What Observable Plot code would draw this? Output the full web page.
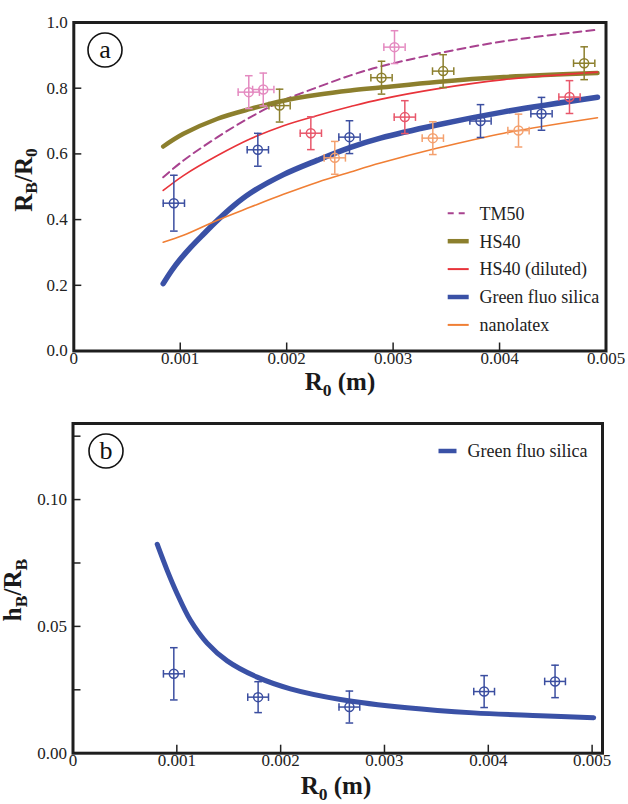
<!DOCTYPE html>
<html><head><meta charset="utf-8">
<script src="https://cdn.jsdelivr.net/npm/d3@7"></script>
<script src="https://cdn.jsdelivr.net/npm/@observablehq/plot@0.6"></script>
<style>
body{margin:0;background:#fff;}
#chart{width:628px;}
#chart svg{display:block;}
</style></head><body><div id="chart"></div>
<script>
// ---------- Panel (a): RB/R0 vs R0 ----------
const xTicksA = [0, 0.001, 0.002, 0.003, 0.004, 0.005];
const yTicksA = [0, 0.2, 0.4, 0.6, 0.8, 1.0];

// fitted curves (sampled from the figure)
const curveX = [0.00084, 0.00103, 0.00135, 0.00166, 0.00197, 0.00229, 0.0026, 0.00288, 0.00341, 0.00404, 0.00492];
const tm50CurveY   = [0.529, 0.580, 0.651, 0.712, 0.763, 0.803, 0.839, 0.866, 0.905, 0.943, 0.978];
const hs40CurveY   = [0.6225, 0.661, 0.707, 0.737, 0.762, 0.780, 0.793, 0.802, 0.819, 0.834, 0.846];
const dilCurveY    = [0.4886, 0.534, 0.595, 0.646, 0.686, 0.717, 0.744, 0.766, 0.798, 0.826, 0.849];
const latexCurveY  = [0.331, 0.352, 0.398, 0.438, 0.477, 0.514, 0.545, 0.572, 0.617, 0.663, 0.710];
const silicaCurveX = [0.00084, 0.00092, 0.001, 0.0011, 0.00122, 0.00135, 0.0015, 0.00166, 0.00197, 0.00229, 0.0026, 0.00288, 0.00341, 0.00404, 0.00492];
const silicaCurveY = [0.205, 0.245, 0.279, 0.316, 0.356, 0.398, 0.442, 0.481, 0.537, 0.581, 0.620, 0.648, 0.688, 0.728, 0.7726];

// measured points
const tm50PtsX = [0.001644, 0.00178, 0.003013];
const tm50PtsY = [0.788, 0.796, 0.925];
const tm50PtsErr = [0.05, 0.05, 0.05];
const hs40PtsX = [0.001933, 0.002891, 0.00347, 0.004795];
const hs40PtsY = [0.747, 0.832, 0.852, 0.876];
const hs40PtsErr = [0.05, 0.05, 0.05, 0.05];
const dilPtsX = [0.002227, 0.00311, 0.004657];
const dilPtsY = [0.663, 0.712, 0.773];
const dilPtsErr = [0.05, 0.05, 0.05];
const silicaPtsX = [0.00094, 0.001729, 0.00259, 0.003821, 0.004394];
const silicaPtsY = [0.45, 0.6125, 0.651, 0.70, 0.722];
const silicaPtsErr = [0.085, 0.05, 0.05, 0.05, 0.05];
const latexPtsX = [0.002452, 0.003373, 0.004178];
const latexPtsY = [0.588, 0.648, 0.671];
const latexPtsErr = [0.05, 0.05, 0.05];
const xErrA = 0.0001;

const legendA = ["TM50", "HS40", "HS40 (diluted)", "Green fluo silica", "nanolatex"];

// ---------- Panel (b): hB/RB vs R0 ----------
const xTicksB = [0, 0.001, 0.002, 0.003, 0.004, 0.005];
const yTicksB = [0, 0.05, 0.10];
const yMinorTicksB = [0.025, 0.075, 0.125];
const hbCurveX = [0.000811, 0.000907, 0.001003, 0.001131, 0.001292, 0.001485, 0.001774, 0.002094, 0.002576, 0.003218, 0.003859, 0.004502, 0.005015];
const hbCurveY = [0.0824, 0.0721, 0.0629, 0.0524, 0.0434, 0.0364, 0.0300, 0.0254, 0.0212, 0.0179, 0.0159, 0.0148, 0.0140];
const hbPtsX = [0.000971, 0.001783, 0.002662, 0.00396, 0.004643];
const hbPtsY = [0.0313, 0.0221, 0.0182, 0.0243, 0.0283];
const hbPtsErr = [0.0103, 0.0061, 0.0063, 0.0063, 0.0064];
const xErrB = 0.0001;
const legendB = ["Green fluo silica"];

// ---------- styling ----------
const FONT = "'Liberation Serif', 'Times New Roman', serif";
const series = [
  {name: legendA[0], cx: curveX, cy: tm50CurveY, px: tm50PtsX, py: tm50PtsY, pe: tm50PtsErr, line: "#a8428f", pt: "#e48ac0", w: 2, dash: "8,5"},
  {name: legendA[1], cx: curveX, cy: hs40CurveY, px: hs40PtsX, py: hs40PtsY, pe: hs40PtsErr, line: "#8c7f2d", pt: "#8c7f2d", w: 4.5, dash: null},
  {name: legendA[2], cx: curveX, cy: dilCurveY, px: dilPtsX, py: dilPtsY, pe: dilPtsErr, line: "#e8333a", pt: "#e8576b", w: 1.6, dash: null},
  {name: legendA[3], cx: silicaCurveX, cy: silicaCurveY, px: silicaPtsX, py: silicaPtsY, pe: silicaPtsErr, line: "#3a51a6", pt: "#3b4ea0", w: 5.5, dash: null},
  {name: legendA[4], cx: curveX, cy: latexCurveY, px: latexPtsX, py: latexPtsY, pe: latexPtsErr, line: "#f07f35", pt: "#f4a06e", w: 1.6, dash: null}
];

const hCap = {draw(ctx, size) { const r = Math.sqrt(size / Math.PI); ctx.moveTo(-r, 0); ctx.lineTo(r, 0); }};
const vCap = {draw(ctx, size) { const r = Math.sqrt(size / Math.PI); ctx.moveTo(0, -r); ctx.lineTo(0, r); }};

function pointMarks(pts, color) {
  const sw = 1.5;
  return [
    Plot.ruleX(pts, {x: "x", y1: d => d.y - d.ey, y2: d => d.y + d.ey, stroke: color, strokeWidth: sw}),
    Plot.ruleY(pts, {y: "y", x1: d => d.x - d.ex, x2: d => d.x + d.ex, stroke: color, strokeWidth: sw}),
    Plot.dot(pts, {x: "x", y: d => d.y + d.ey, symbol: hCap, r: 3.8, stroke: color, fill: "none", strokeWidth: sw}),
    Plot.dot(pts, {x: "x", y: d => d.y - d.ey, symbol: hCap, r: 3.8, stroke: color, fill: "none", strokeWidth: sw}),
    Plot.dot(pts, {x: d => d.x + d.ex, y: "y", symbol: vCap, r: 3.8, stroke: color, fill: "none", strokeWidth: sw}),
    Plot.dot(pts, {x: d => d.x - d.ex, y: "y", symbol: vCap, r: 3.8, stroke: color, fill: "none", strokeWidth: sw}),
    Plot.dot(pts, {x: "x", y: "y", r: 4.5, stroke: color, fill: "none", strokeWidth: sw})
  ];
}

const fmtX = d => d === 0 ? "0" : d3.format(".3f")(d);

// ---------- build panel a ----------
const marksA = [];
for (const s of series) {
  const curve = s.cx.map((x, i) => ({x, y: s.cy[i]}));
  marksA.push(Plot.line(curve, {x: "x", y: "y", stroke: s.line, strokeWidth: s.w, curve: "catmull-rom", strokeDasharray: s.dash}));
}
for (const s of series) {
  const pts = s.px.map((x, i) => ({x, y: s.py[i], ex: xErrA, ey: s.pe[i]}));
  marksA.push(...pointMarks(pts, s.pt));
}
const plotA = Plot.plot({
  width: 628, height: 400,
  marginLeft: 73.3, marginRight: 22.5, marginTop: 22, marginBottom: 49.5,
  style: {fontFamily: FONT, fontSize: "17px", color: "#222", background: "#fff"},
  x: {domain: [0, 0.005]},
  y: {domain: [0, 1]},
  marks: [
    ...marksA,
    Plot.axisX(xTicksA, {tickSize: -8, fill: "none", label: null, strokeWidth: 1.5}),
    Plot.axisX(xTicksA, {tickSize: 0, tickPadding: 1, stroke: "none", tickFormat: fmtX, label: null}),
    Plot.axisY(yTicksA, {tickSize: -8, fill: "none", label: null, strokeWidth: 1.5}),
    Plot.axisY(yTicksA, {tickSize: 0, tickPadding: 6, stroke: "none", tickFormat: d3.format(".1f"), label: null}),
    Plot.frame({stroke: "#1e1e1e", strokeWidth: 3})
  ]
});

// ---------- build panel b ----------
const hbCurve = hbCurveX.map((x, i) => ({x, y: hbCurveY[i]}));
const hbPts = hbPtsX.map((x, i) => ({x, y: hbPtsY[i], ex: xErrB, ey: hbPtsErr[i]}));
const plotB = Plot.plot({
  width: 628, height: 404,
  marginLeft: 72.5, marginRight: 26, marginTop: 23, marginBottom: 51.3,
  style: {fontFamily: FONT, fontSize: "17px", color: "#222", background: "#fff"},
  x: {domain: [0, 0.0051]},
  y: {domain: [0, 0.13]},
  marks: [
    Plot.line(hbCurve, {x: "x", y: "y", stroke: "#3a51a6", strokeWidth: 5, curve: "catmull-rom"}),
    ...pointMarks(hbPts, "#3b4ea0"),
    Plot.axisX(xTicksB, {tickSize: -8, fill: "none", label: null, strokeWidth: 1.5}),
    Plot.axisX(xTicksB, {tickSize: 0, tickPadding: 1, stroke: "none", tickFormat: fmtX, label: null}),
    Plot.axisY([...yTicksB, ...yMinorTicksB], {tickSize: -8, fill: "none", label: null, strokeWidth: 1.5}),
    Plot.axisY(yTicksB, {tickSize: 0, tickPadding: 6, stroke: "none", tickFormat: d3.format(".2f"), label: null}),
    Plot.frame({stroke: "#1e1e1e", strokeWidth: 3})
  ]
});

const chart = document.getElementById("chart");
chart.appendChild(plotA);
chart.appendChild(plotB);

// ---------- annotations: axis labels with subscripts, panel tags, legends ----------
function subText(g, parts, size) {
  const t = g.append("text").attr("font-family", FONT).attr("font-weight", "bold").attr("font-size", size).attr("fill", "#1a1a1a");
  let prevSub = false;
  for (const [txt, sub] of parts) {
    const sp = t.append("tspan").text(txt);
    if (sub && !prevSub) sp.attr("dy", size * 0.22).attr("font-size", size * 0.7);
    else if (!sub && prevSub) sp.attr("dy", -size * 0.22);
    prevSub = sub;
  }
  return t;
}

function decorate(svgNode, opts) {
  const svg = d3.select(svgNode);
  const g = svg.append("g");
  subText(g.append("g").attr("transform", `translate(${opts.xLab[0]},${opts.xLab[1]})`), opts.xParts, 25).attr("text-anchor", "middle");
  subText(g.append("g").attr("transform", `translate(${opts.yLab[0]},${opts.yLab[1]}) rotate(-90)`), opts.yParts, 25).attr("text-anchor", "middle");
  g.append("circle").attr("cx", opts.tag[0]).attr("cy", opts.tag[1]).attr("r", 17).attr("fill", "none").attr("stroke", "#111").attr("stroke-width", 1.6);
  g.append("text").attr("x", opts.tag[0]).attr("y", opts.tag[1] + 8).attr("text-anchor", "middle")
    .attr("font-family", FONT).attr("font-size", 26).attr("fill", "#111").text(opts.tagText);
  opts.legend.forEach((it, i) => {
    const y = opts.legPos[1] + i * opts.legStep;
    g.append("line").attr("x1", opts.legPos[0]).attr("x2", opts.legPos[0] + opts.legLen).attr("y1", y).attr("y2", y)
      .attr("stroke", it.color).attr("stroke-width", it.w).attr("stroke-dasharray", it.dash);
    g.append("text").attr("x", opts.legPos[0] + opts.legText).attr("y", y).attr("dy", "0.35em")
      .attr("text-anchor", "start")
      .attr("font-family", FONT).attr("font-size", 18).attr("fill", "#222").text(it.name);
  });
}

decorate(plotA, {
  xLab: [340, 390], xParts: [["R", false], ["0", true], [" (m)", false]],
  yLab: [31.5, 180], yParts: [["R", false], ["B", true], ["/R", false], ["0", true]],
  tag: [105, 50], tagText: "a",
  legPos: [447.7, 213.3], legStep: 27.9, legLen: 21, legText: 31.7,
  legend: series.map(s => ({name: s.name, color: s.line, w: s.w > 3 ? 4.5 : 2, dash: s.dash ? "6,5" : null}))
});
decorate(plotB, {
  xLab: [336, 394], xParts: [["R", false], ["0", true], [" (m)", false]],
  yLab: [21, 190], yParts: [["h", false], ["B", true], ["/R", false], ["B", true]],
  tag: [106, 51], tagText: "b",
  legPos: [438.5, 51], legStep: 28, legLen: 18, legText: 29,
  legend: [{name: legendB[0], color: "#3a51a6", w: 4.5, dash: null}]
});
</script>
</body></html>
